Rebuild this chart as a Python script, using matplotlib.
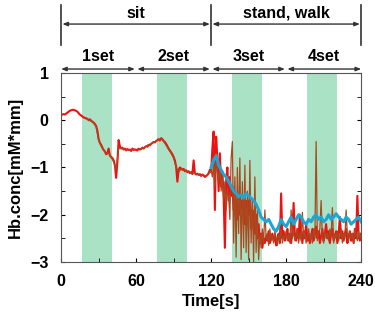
import matplotlib
matplotlib.use('Agg')
import matplotlib.pyplot as plt
import numpy as np

plt.rcParams['font.family'] = ['Liberation Sans', 'DejaVu Sans']
plt.rcParams['font.weight'] = 'bold'

# red trace, one value per second 0..240
red_y = [0.12, 0.12, 0.13, 0.12, 0.14, 0.16, 0.18, 0.20, 0.21, 0.22,
         0.22, 0.21, 0.20, 0.18, 0.15, 0.12, 0.10, 0.08, 0.06, 0.05,
         0.04, 0.03, 0.00, 0.02, -0.01, -0.03, -0.05, -0.08, -0.12, -0.22,
         -0.40, -0.48, -0.52, -0.58, -0.63, -0.66, -0.72, -0.70, -0.60, -0.75,
         -0.78, -0.80, -0.85, -0.95, -1.22, -0.90, -0.42, -0.55, -0.60, -0.58,
         -0.62, -0.60, -0.64, -0.61, -0.63, -0.62, -0.65, -0.60, -0.63, -0.62,
         -0.63, -0.64, -0.60, -0.62, -0.61, -0.58, -0.60, -0.57, -0.55, -0.56,
         -0.52, -0.53, -0.50, -0.48, -0.46, -0.47, -0.44, -0.42, -0.40, -0.43,
         -0.38, -0.40, -0.44, -0.46, -0.50, -0.55, -0.60, -0.64, -0.68, -0.72,
         -0.78, -0.85, -0.98, -1.30, -1.05, -1.00, -1.02, -1.05, -1.03, -1.08,
         -1.06, -1.10, -1.08, -1.12, -1.10, -1.14, -0.85, -1.12, -1.15, -1.13,
         -1.16, -1.14, -1.18, -1.15, -1.17, -1.20, -1.18, -1.16, -1.12, -1.05,
         -1.10, -0.60, -0.24, -1.90, -0.35, -0.80, -1.50, -0.70, -1.40, -1.10,
         -1.60, -2.70, -1.30, -1.00, -1.70, -1.20, -1.60, -1.40, -1.90, -1.50,
         -1.80, -2.10, -1.60, -2.00, -1.70, -1.90, -1.60, -2.20, -1.80, -1.70,
         -2.00, -1.60, -2.30, -1.90, -2.10, -2.40, -2.00, -2.50, -2.20, -2.60,
         -2.40, -2.70, -2.50, -2.60, -2.45, -2.55, -2.35, -2.60, -2.50, -2.40,
         -2.55, -2.45, -2.65, -2.50, -2.40, -2.60, -1.55, -2.50, -2.35, -2.55,
         -2.45, -2.30, -2.55, -2.40, -2.60, -2.35, -1.75, -2.45, -2.55, -2.30,
         -2.50, -2.00, -2.40, -2.60, -2.35, -2.50, -2.20, -2.55, -2.40, -2.60,
         -2.45, -2.30, -2.55, -2.40, -2.25, -2.50, -2.35, -2.60, -2.45, -2.30,
         -2.55, -2.40, -2.20, -2.50, -2.35, -2.60, -2.40, -2.30, -2.55, -2.45,
         -2.35, -2.60, -2.40, -2.05, -2.50, -2.35, -2.55, -2.40, -2.30, -2.60,
         -2.45, -2.35, -2.55, -2.40, -2.60, -2.30, -2.50, -1.60, -2.45, -2.55,
         -2.40]
red_t = list(range(0, 241))

# brown trace: every 2 s from 20 to 118, then every second 120..240
brown_t = list(range(20, 120, 2)) + list(range(120, 241))
brown_y = [0.03, 0.01, -0.02, -0.06, -0.14, -0.42, -0.55, -0.62, -0.70, -0.68,
           -0.78, -0.88, -1.05, -0.60, -0.59, -0.61, -0.63, -0.62, -0.63, -0.61,
           -0.62, -0.61, -0.60, -0.59, -0.55, -0.52, -0.50, -0.47, -0.45, -0.41,
           -0.39, -0.45, -0.53, -0.62, -0.70, -0.80, -0.99, -1.10, -1.03, -1.05,
           -1.07, -1.09, -1.11, -1.12, -1.14, -1.15, -1.17, -1.16, -1.18, -1.14,
           -1.05, -1.20, -0.90, -1.40, -0.70, -1.10, -1.30, -0.95, -1.50, -1.20,
           -1.70, -1.30, -1.90, -1.50, -1.60, -2.10, -0.80, -0.45, -2.60, -1.20,
           -2.90, -1.00, -2.40, -0.80, -2.95, -1.30, -2.70, -0.95, -2.80, -1.50,
           -2.95, -0.85, -2.60, -1.70, -3.00, -1.20, -2.80, -1.90, -2.95, -2.40,
           -2.70, -2.30, -2.60, -1.90, -2.50, -2.40, -2.65, -2.30, -2.55, -2.45,
           -2.60, -2.35, -2.50, -2.65, -2.40, -2.55, -2.30, -2.60, -2.45, -2.50,
           -2.35, -2.55, -2.40, -2.60, -1.90, -2.50, -2.35, -2.55, -2.45, -2.30,
           -2.60, -2.40, -2.55, -1.95, -2.50, -2.35, -2.60, -2.45, -2.30, -2.55,
           -2.40, -2.60, -2.30, -2.50, -0.45, -2.55, -2.40, -2.30, -1.70, -2.50,
           -2.60, -2.35, -2.50, -2.40, -2.55, -2.30, -2.45, -1.85, -2.60, -2.40,
           -2.50, -2.35, -2.55, -2.45, -2.30, -2.60, -2.40, -2.50, -1.90, -2.45,
           -2.55, -2.35, -2.50, -2.40, -2.60, -2.30, -2.45, -2.55, -2.35, -2.50,
           -2.40]

# cyan (smoothed) trace, every 2 s from 120 to 240
cyan_t = list(range(120, 241, 2))
cyan_y = [-1.00, -0.85, -0.75, -0.95, -1.05, -1.15, -1.20, -1.30, -1.40, -1.50,
          -1.55, -1.62, -1.58, -1.65, -1.55, -1.60, -1.65, -1.70, -1.78, -1.90,
          -2.05, -2.10, -2.15, -2.10, -2.20, -2.30, -2.35, -2.25, -2.10, -2.20,
          -2.25, -2.15, -2.05, -2.20, -2.10, -2.00, -2.05, -2.15, -2.20, -2.10,
          -2.15, -2.05, -2.00, -2.10, -2.05, -2.15, -2.10, -2.00, -2.10, -2.05,
          -1.98, -2.05, -2.10, -2.15, -2.05, -2.10, -2.20, -2.15, -2.10, -2.05,
          -2.15]

bands = [(17, 41), (77, 101), (137, 161), (197, 221)]
phases = ['sit', 'stand, walk']
phase_spans = [(0, 120), (120, 240)]
sets = ['1set', '2set', '3set', '4set']
set_spans = [(0, 59), (61, 119), (121, 179), (181, 240)]

fig = plt.figure(figsize=(3.75, 3.23), dpi=100)
ax = fig.add_axes([0.163, 0.189, 0.8, 0.585])

for a, b in bands:
    ax.axvspan(a, b, color='#a9e2c4', lw=0, zorder=0)

ax.plot(red_t, red_y, color='#ee1111', lw=1.5, zorder=2)
ax.plot(brown_t, brown_y, color='#a9491f', lw=0.9, zorder=3)
ax.plot(cyan_t, cyan_y, color='#1ea6d2', lw=2.2, zorder=4)

ax.set_xlim(0, 240)
ax.set_ylim(-3, 1)
ax.set_xticks([0, 60, 120, 180, 240])
ax.set_xticks([30, 90, 150, 210], minor=True)
ax.set_yticks([-3, -2, -1, 0, 1])
ax.set_yticks([-2.5, -1.5, -0.5, 0.5], minor=True)
ax.tick_params(direction='in', which='both', right=True, labelsize=11.5, pad=9)
ax.tick_params(which='both', length=3)
for s in ax.spines.values():
    s.set_color('#555555')
ax.set_xlabel('Time[s]', fontsize=12, fontweight='bold', labelpad=3)
ax.set_ylabel('Hb.conc[mM*mm]', fontsize=12, fontweight='bold', labelpad=5)

tr = ax.get_xaxis_transform()
for x in [0, 120, 240]:
    ax.plot([x, x], [1.148, 1.36], transform=tr, color='#333333', lw=1.2, clip_on=False)
for name, (a, b) in zip(phases, phase_spans):
    ax.annotate('', xy=(a + 1, 1.259), xytext=(b - 1, 1.259), xycoords=tr, textcoords=tr,
                arrowprops=dict(arrowstyle='<|-|>,head_length=0.3,head_width=0.12',
                                color='#333333', lw=1.0, shrinkA=0, shrinkB=0))
    ax.text((a + b) / 2, 1.315, name, transform=tr, ha='center', va='center',
            fontsize=11.5, fontweight='bold')
for name, (a, b) in zip(sets, set_spans):
    ax.annotate('', xy=(a, 1.021), xytext=(b, 1.021), xycoords=tr, textcoords=tr,
                arrowprops=dict(arrowstyle='<|-|>,head_length=0.3,head_width=0.12',
                                color='#333333', lw=1.0, shrinkA=0, shrinkB=0))
    ax.text((a + b) / 2, 1.085, name, transform=tr, ha='center', va='center',
            fontsize=11.5, fontweight='bold')

fig.savefig('out.png', dpi=100)
